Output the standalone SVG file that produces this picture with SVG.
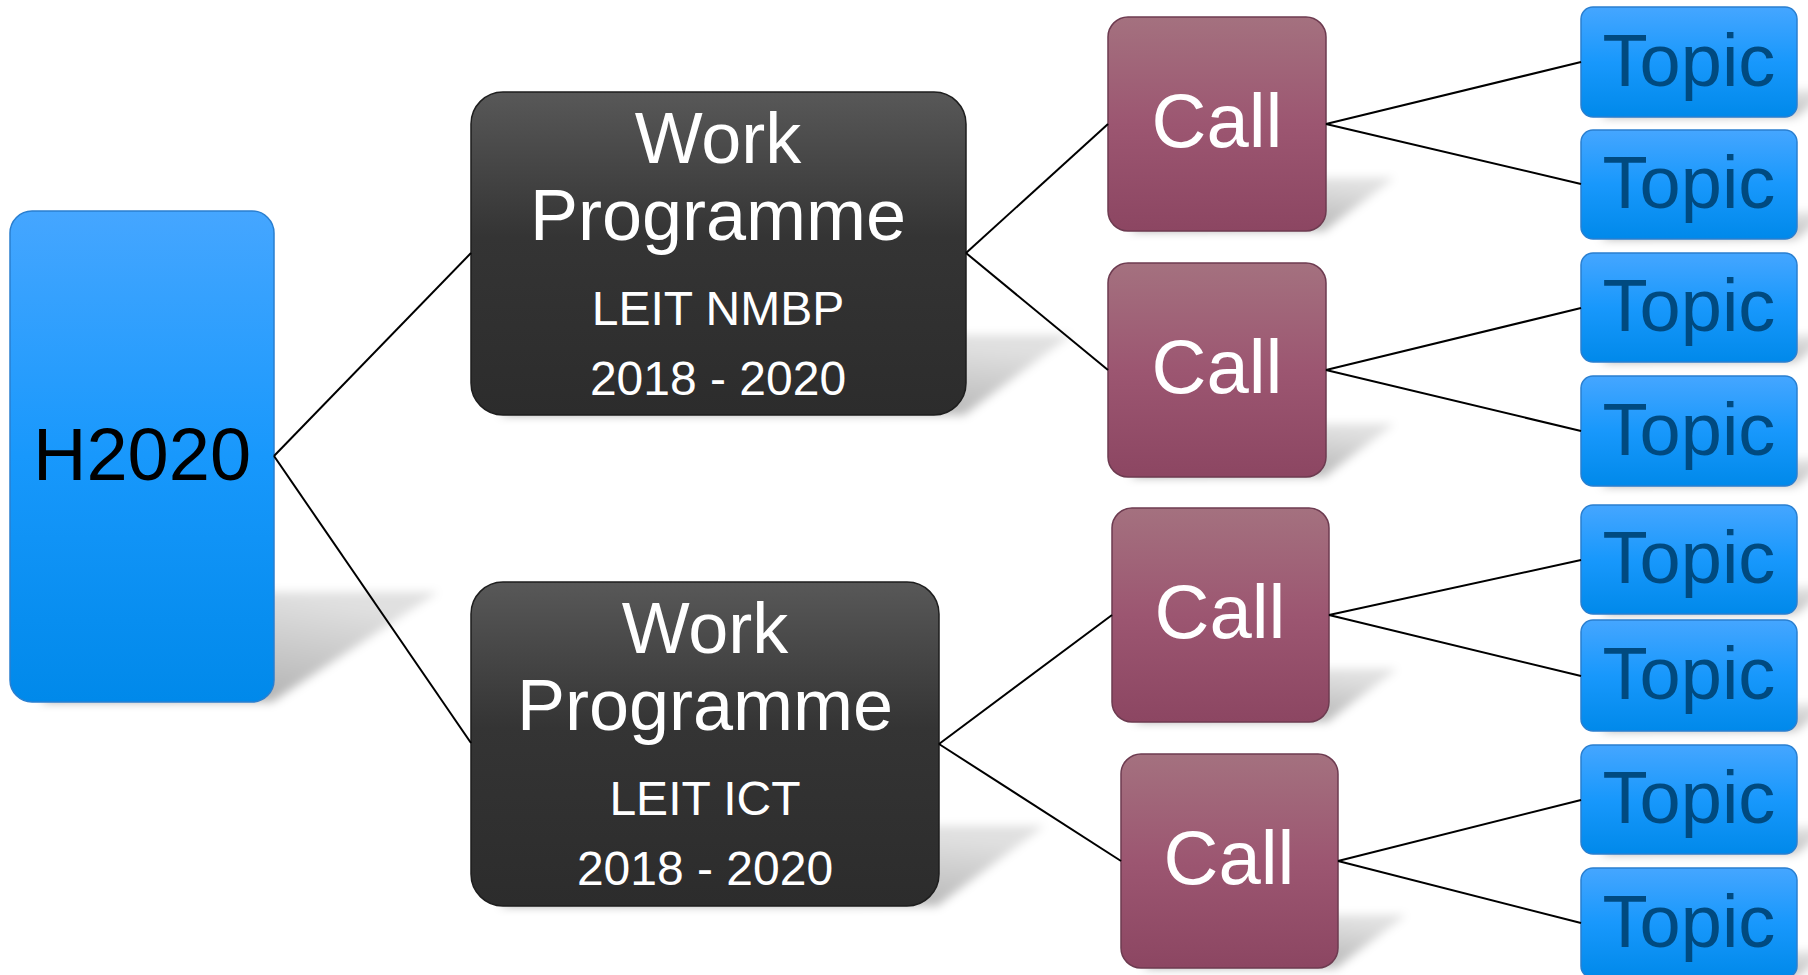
<svg xmlns="http://www.w3.org/2000/svg" width="1808" height="975" viewBox="0 0 1808 975">
<defs>
<linearGradient id="gBlue" x1="0" y1="0" x2="0" y2="1">
<stop offset="0" stop-color="#45a6ff"/><stop offset="0.5" stop-color="#1898fc"/><stop offset="1" stop-color="#0089ea"/>
</linearGradient>
<linearGradient id="gDark" x1="0" y1="0" x2="0" y2="1">
<stop offset="0" stop-color="#585858"/><stop offset="0.45" stop-color="#343434"/><stop offset="1" stop-color="#2c2c2c"/>
</linearGradient>
<linearGradient id="gCall" x1="0" y1="0" x2="0" y2="1">
<stop offset="0" stop-color="#a4717f"/><stop offset="0.5" stop-color="#9c5671"/><stop offset="1" stop-color="#8c4662"/>
</linearGradient>
<linearGradient id="gShadow" x1="0" y1="1" x2="0.6" y2="0">
<stop offset="0" stop-color="#000" stop-opacity="0.36"/><stop offset="1" stop-color="#000" stop-opacity="0.12"/>
</linearGradient>
<filter id="blur" x="-20%" y="-40%" width="140%" height="180%"><feGaussianBlur stdDeviation="5"/></filter>
<style>
.sh{fill:url(#gShadow);filter:url(#blur)}
.blue{fill:url(#gBlue);stroke:#2a7fd0;stroke-width:1.5}
.dark{fill:url(#gDark);stroke:#1e1e1e;stroke-width:1.5}
.call{fill:url(#gCall);stroke:#6d3b50;stroke-width:1.5}
text{font-family:"Liberation Sans",Arial,sans-serif;text-anchor:middle}
.th{font-size:74px;fill:#000}
.tw{font-size:72px;fill:#fff}
.ts{font-size:48px;fill:#fff}
.tc{font-size:76px;fill:#fff}
.tt{font-size:74px;fill:#004a80}
.conn line{stroke:#000;stroke-width:2}
</style>
</defs>
<rect width="1808" height="975" fill="#fff"/>

<g id="h2020">
<path class="sh" d="M40,702 L272,702 L438,592 L175,592 Z"/>
<rect class="blue" x="10" y="211" width="264" height="491" rx="22"/>
<text class="th" x="142" y="480" font-family="Liberation Sans, Arial, sans-serif">H2020</text>
</g>

<g id="wp1">
<path class="sh" d="M500,415 L964,415 L1071,335 L600,335 Z"/>
<rect class="dark" x="471" y="92" width="495" height="323" rx="32"/>
<text class="tw" x="718" y="163" font-family="Liberation Sans, Arial, sans-serif">Work</text>
<text class="tw" x="718" y="240" font-family="Liberation Sans, Arial, sans-serif">Programme</text>
<text class="ts" x="718" y="325" font-family="Liberation Sans, Arial, sans-serif">LEIT NMBP</text>
<text class="ts" x="718" y="395" font-family="Liberation Sans, Arial, sans-serif">2018 - 2020</text>
</g>

<g id="wp2">
<path class="sh" d="M500,906 L937,906 L1044,826 L600,826 Z"/>
<rect class="dark" x="471" y="582" width="468" height="324" rx="32"/>
<text class="tw" x="705" y="653" font-family="Liberation Sans, Arial, sans-serif">Work</text>
<text class="tw" x="705" y="730" font-family="Liberation Sans, Arial, sans-serif">Programme</text>
<text class="ts" x="705" y="815" font-family="Liberation Sans, Arial, sans-serif">LEIT ICT</text>
<text class="ts" x="705" y="885" font-family="Liberation Sans, Arial, sans-serif">2018 - 2020</text>
</g>

<g id="call1">
<path class="sh" d="M1130,231 L1324,231 L1394,178 L1190,178 Z"/>
<rect class="call" x="1108" y="17" width="218" height="214" rx="20"/>
<text class="tc" x="1217" y="147" font-family="Liberation Sans, Arial, sans-serif">Call</text>
</g>
<g id="call2">
<path class="sh" d="M1130,477 L1324,477 L1394,424 L1190,424 Z"/>
<rect class="call" x="1108" y="263" width="218" height="214" rx="20"/>
<text class="tc" x="1217" y="393" font-family="Liberation Sans, Arial, sans-serif">Call</text>
</g>
<g id="call3">
<path class="sh" d="M1134,722 L1327,722 L1397,669 L1194,669 Z"/>
<rect class="call" x="1112" y="508" width="217" height="214" rx="20"/>
<text class="tc" x="1220" y="638" font-family="Liberation Sans, Arial, sans-serif">Call</text>
</g>
<g id="call4">
<path class="sh" d="M1143,968 L1336,968 L1406,915 L1203,915 Z"/>
<rect class="call" x="1121" y="754" width="217" height="214" rx="20"/>
<text class="tc" x="1229" y="884" font-family="Liberation Sans, Arial, sans-serif">Call</text>
</g>

<g id="topic1">
<path class="sh" d="M1600,117 L1795,117 L1833,90 L1640,90 Z"/>
<rect class="blue" x="1581" y="7" width="216" height="110" rx="12"/>
<text class="tt" x="1689" y="86" font-family="Liberation Sans, Arial, sans-serif">Topic</text>
</g>
<g id="topic2">
<path class="sh" d="M1600,239 L1795,239 L1833,212 L1640,212 Z"/>
<rect class="blue" x="1581" y="130" width="216" height="109" rx="12"/>
<text class="tt" x="1689" y="208" font-family="Liberation Sans, Arial, sans-serif">Topic</text>
</g>
<g id="topic3">
<path class="sh" d="M1600,362 L1795,362 L1833,335 L1640,335 Z"/>
<rect class="blue" x="1581" y="253" width="216" height="109" rx="12"/>
<text class="tt" x="1689" y="331" font-family="Liberation Sans, Arial, sans-serif">Topic</text>
</g>
<g id="topic4">
<path class="sh" d="M1600,486 L1795,486 L1833,459 L1640,459 Z"/>
<rect class="blue" x="1581" y="376" width="216" height="110" rx="12"/>
<text class="tt" x="1689" y="455" font-family="Liberation Sans, Arial, sans-serif">Topic</text>
</g>
<g id="topic5">
<path class="sh" d="M1600,614 L1795,614 L1833,587 L1640,587 Z"/>
<rect class="blue" x="1581" y="505" width="216" height="109" rx="12"/>
<text class="tt" x="1689" y="583" font-family="Liberation Sans, Arial, sans-serif">Topic</text>
</g>
<g id="topic6">
<path class="sh" d="M1600,731 L1795,731 L1833,704 L1640,704 Z"/>
<rect class="blue" x="1581" y="620" width="216" height="111" rx="12"/>
<text class="tt" x="1689" y="699" font-family="Liberation Sans, Arial, sans-serif">Topic</text>
</g>
<g id="topic7">
<path class="sh" d="M1600,854 L1795,854 L1833,827 L1640,827 Z"/>
<rect class="blue" x="1581" y="745" width="216" height="109" rx="12"/>
<text class="tt" x="1689" y="823" font-family="Liberation Sans, Arial, sans-serif">Topic</text>
</g>
<g id="topic8">
<path class="sh" d="M1600,978 L1795,978 L1833,951 L1640,951 Z"/>
<rect class="blue" x="1581" y="868" width="216" height="110" rx="12"/>
<text class="tt" x="1689" y="947" font-family="Liberation Sans, Arial, sans-serif">Topic</text>
</g>

<g id="connectors" class="conn">
<line x1="274" y1="456" x2="471" y2="253"/>
<line x1="274" y1="456" x2="471" y2="743"/>
<line x1="966" y1="253" x2="1108" y2="124"/>
<line x1="966" y1="253" x2="1108" y2="370"/>
<line x1="939" y1="744" x2="1112" y2="615"/>
<line x1="939" y1="744" x2="1121" y2="861"/>
<line x1="1326" y1="124" x2="1581" y2="62"/>
<line x1="1326" y1="124" x2="1581" y2="184"/>
<line x1="1326" y1="370" x2="1581" y2="308"/>
<line x1="1326" y1="370" x2="1581" y2="431"/>
<line x1="1329" y1="615" x2="1581" y2="560"/>
<line x1="1329" y1="615" x2="1581" y2="676"/>
<line x1="1338" y1="861" x2="1581" y2="800"/>
<line x1="1338" y1="861" x2="1581" y2="923"/>
</g>
</svg>
